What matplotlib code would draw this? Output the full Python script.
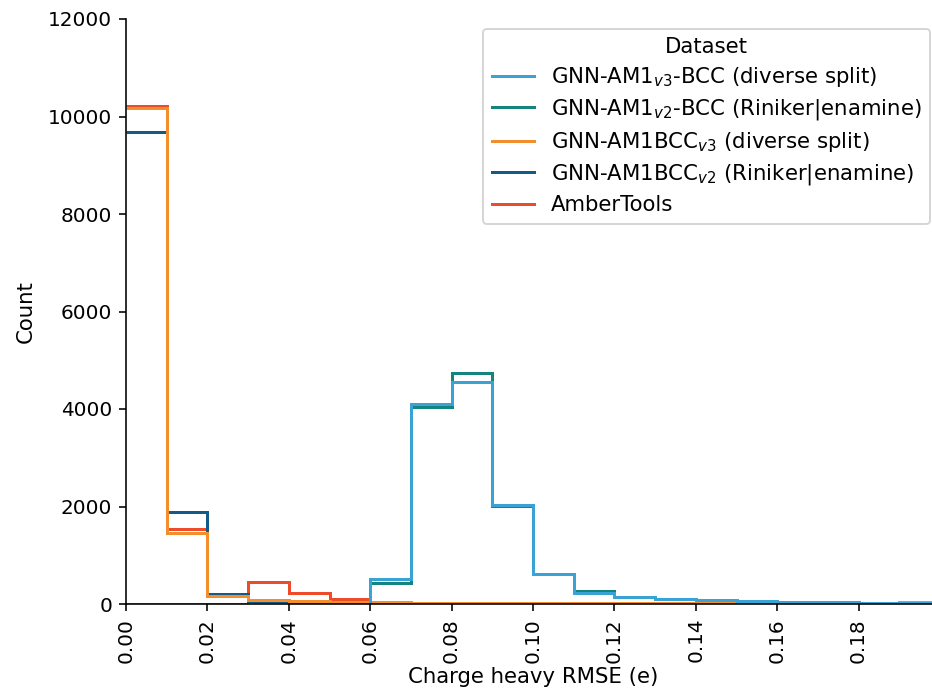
import numpy as np
import matplotlib
matplotlib.use("Agg")
import matplotlib.pyplot as plt

# bin edges (Charge heavy RMSE, e)
bin_edges = [round(0.01 * i, 2) for i in range(21)]

labels = [
    "GNN-AM1$_{v3}$-BCC (diverse split)",
    "GNN-AM1$_{v2}$-BCC (Riniker|enamine)",
    "GNN-AM1BCC$_{v3}$ (diverse split)",
    "GNN-AM1BCC$_{v2}$ (Riniker|enamine)",
    "AmberTools",
]
colors = ["#3AA3D6", "#13857E", "#F28E2B", "#145A86", "#EE4B2B"]

am1_v3_bcc = [0, 0, 0, 0, 0, 0, 515, 4110, 4564, 2040, 610, 227, 135, 100, 75, 65, 50, 40, 30, 25]
am1_v2_bcc = [0, 0, 0, 0, 0, 0, 430, 4034, 4729, 2010, 615, 262, 140, 105, 75, 65, 50, 40, 30, 25]
am1bcc_v3 = [10170, 1451, 163, 80, 60, 45, 38, 30, 25, 22, 22, 22, 20, 18, 15, 12, 12, 15, 25, 50]
am1bcc_v2 = [9674, 1897, 212, 70, 50, 35, 25, 18, 12, 10, 10, 10, 8, 8, 6, 6, 5, 5, 5, 5]
ambertools = [10212, 1536, 175, 460, 233, 100, 40, 25, 15, 12, 10, 10, 8, 8, 6, 6, 5, 5, 5, 5]

series = [am1_v3_bcc, am1_v2_bcc, am1bcc_v3, am1bcc_v2, ambertools]

fig = plt.figure(figsize=(932 / 144, 694 / 144), dpi=144)
ax = fig.add_axes([126 / 932, 90 / 694, (940 - 126) / 932, (604 - 19) / 694])

handles = [None] * len(series)
for i in reversed(range(len(series))):
    h = ax.stairs(series[i], bin_edges, color=colors[i], lw=1.5, label=labels[i], baseline=None)
    handles[i] = h

ax.set_xlim(0, 0.2)
ax.set_ylim(0, 12000)
ticks = np.arange(0, 0.19, 0.02)
ax.set_xticks(ticks)
ax.set_xticklabels([f"{v:.2f}" for v in ticks], rotation=90)
ax.tick_params(labelsize=10)
ax.spines["top"].set_visible(False)
ax.spines["right"].set_visible(False)
ax.set_xlabel("Charge heavy RMSE (e)", fontsize=10.6, labelpad=2)
ax.set_ylabel("Count", fontsize=10.6, labelpad=6)
ax.legend(handles=handles, labels=labels, title="Dataset", loc="upper right",
          fontsize=10.6, title_fontsize=10.6, handlelength=2.0, labelspacing=0.38,
          handletextpad=0.8, borderaxespad=0.45)

fig.savefig("out.png", dpi=144)
